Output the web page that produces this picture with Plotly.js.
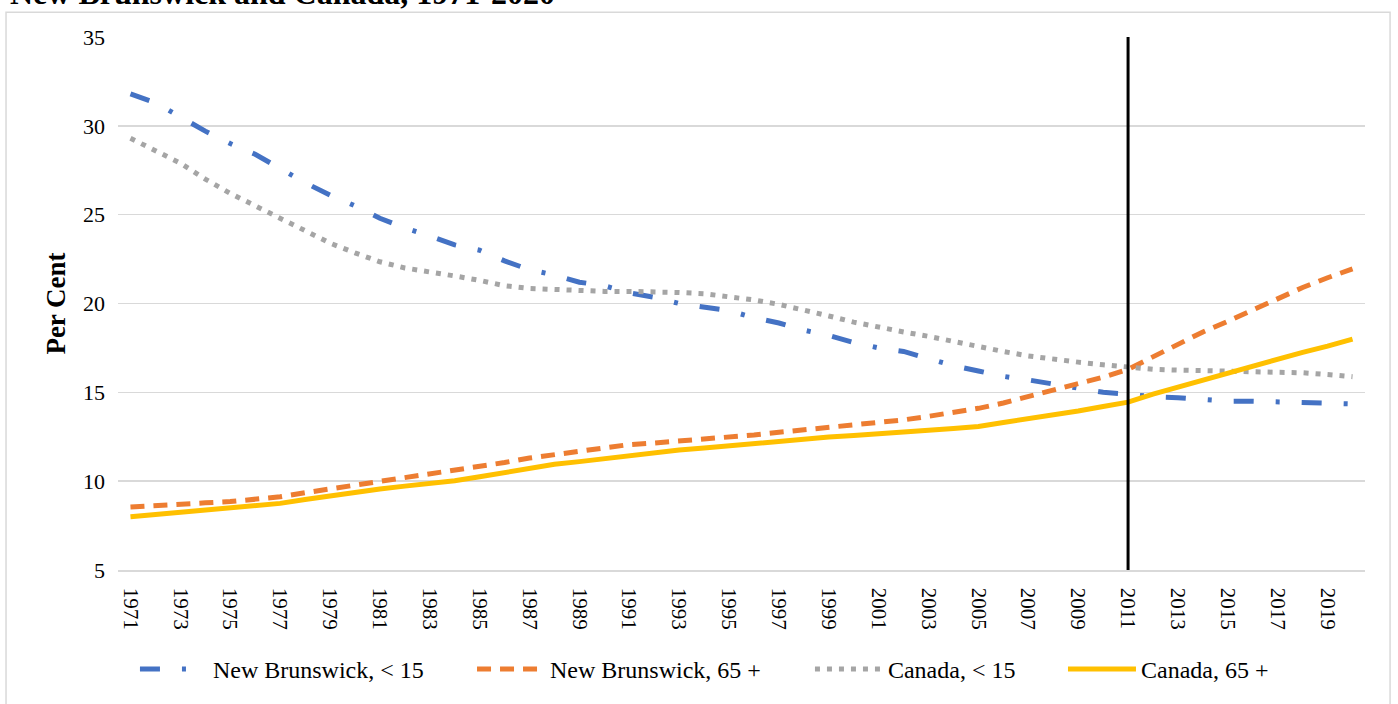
<!DOCTYPE html>
<html>
<head>
<meta charset="utf-8">
<script src="https://cdn.plot.ly/plotly-3.0.1.min.js"></script>
<style>html,body{margin:0;padding:0;background:#fff;}#chart{width:1398px;height:704px;}</style>
</head>
<body>
<div id="chart"></div>
<script>
const years = [1971,1972,1973,1974,1975,1976,1977,1978,1979,1980,1981,1982,1983,1984,1985,1986,1987,1988,1989,1990,1991,1992,1993,1994,1995,1996,1997,1998,1999,2000,2001,2002,2003,2004,2005,2006,2007,2008,2009,2010,2011,2012,2013,2014,2015,2016,2017,2018,2019,2020];

const nbUnder15 = [31.8,31.3,30.5,29.7,29.0,28.4,27.6,26.8,26.1,25.5,24.8,24.25,23.8,23.3,23.0,22.4,21.9,21.6,21.2,21.0,20.6,20.35,20.0,19.8,19.6,19.2,18.9,18.5,18.2,17.8,17.5,17.3,16.9,16.5,16.2,15.9,15.7,15.45,15.2,15.0,14.9,14.75,14.7,14.6,14.5,14.5,14.45,14.4,14.4,14.35];

const nb65plus = [8.55,8.65,8.72,8.78,8.85,8.95,9.12,9.35,9.56,9.78,10.0,10.17,10.35,10.58,10.8,11.05,11.3,11.5,11.72,11.92,12.06,12.15,12.25,12.37,12.47,12.6,12.75,12.88,13.05,13.15,13.3,13.45,13.65,13.85,14.1,14.4,14.75,15.1,15.45,15.85,16.3,17.0,17.7,18.4,19.0,19.65,20.3,20.9,21.45,21.95];

const canUnder15 = [29.3,28.6,27.9,27.0,26.2,25.5,24.8,24.1,23.4,22.85,22.35,22.0,21.8,21.55,21.3,21.0,20.85,20.77,20.7,20.68,20.68,20.66,20.62,20.55,20.4,20.2,19.95,19.65,19.3,18.95,18.65,18.4,18.15,17.85,17.6,17.3,17.05,16.85,16.7,16.55,16.4,16.3,16.25,16.23,16.2,16.2,16.17,16.1,16.0,15.88];

const can65plus = [8.0,8.13,8.25,8.36,8.47,8.6,8.75,8.97,9.18,9.38,9.56,9.72,9.87,10.02,10.25,10.48,10.72,10.95,11.1,11.28,11.45,11.6,11.75,11.87,12.0,12.12,12.25,12.37,12.48,12.57,12.65,12.75,12.87,12.97,13.08,13.3,13.5,13.72,13.95,14.2,14.45,14.9,15.3,15.72,16.12,16.5,16.88,17.25,17.6,18.0];

const tickYears = [1971,1973,1975,1977,1979,1981,1983,1985,1987,1989,1991,1993,1995,1997,1999,2001,2003,2005,2007,2009,2011,2013,2015,2017,2019];
const tickLabels = ["1971","1973","1975","1977","1979","1981","1983","1985","1987","1989","1991","1993","1995","1997","1999","2001","2003","2005","2007","2009","2011","2013","2015","2017","2019"];

const seriesNames = ["New Brunswick, < 15","New Brunswick, 65 +","Canada, < 15","Canada, 65 +"];
const markerYear = 2011;
const chartTitle = "New Brunswick and Canada, 1971-2020";

const FONT = "'Liberation Serif', 'Times New Roman', serif";

const traces = [
  {x: years, y: nbUnder15, name: seriesNames[0], mode: 'lines', legend: 'legend',
   line: {color: '#4472C4', width: 5, dash: '20px,22px,4px,22px'}},
  {x: years, y: nb65plus, name: seriesNames[1], mode: 'lines', legend: 'legend2',
   line: {color: '#ED7D31', width: 5, dash: '14px,9px'}},
  {x: years, y: canUnder15, name: seriesNames[2], mode: 'lines', legend: 'legend3',
   line: {color: '#A5A5A5', width: 5, dash: '5px,7px'}},
  {x: years, y: can65plus, name: seriesNames[3], mode: 'lines', legend: 'legend4',
   line: {color: '#FFC000', width: 5}}
];

function leg(x) {
  return {orientation: 'h', x: x, xanchor: 'left', y: -0.1866, yanchor: 'middle',
    font: {family: FONT, size: 24, color: '#000'}, itemwidth: 68, bgcolor: 'rgba(0,0,0,0)'};
}

const layout = {
  width: 1398, height: 704,
  margin: {l: 118, r: 33, t: 37, b: 131, pad: 0},
  paper_bgcolor: '#fff', plot_bgcolor: '#fff',
  font: {family: FONT, size: 20, color: '#000'},
  showlegend: true,
  legend: leg(0.0136),
  legend2: leg(0.2839),
  legend3: leg(0.5549),
  legend4: leg(0.7578),
  xaxis: {
    range: [1970.5, 2020.5], tickmode: 'array', tickvals: tickYears, ticktext: tickLabels,
    tickangle: 90, showgrid: false, zeroline: false, showline: true, linecolor: '#D9D9D9', linewidth: 1.5,
    ticks: '', ticklabelstandoff: 12, tickfont: {family: FONT, size: 21, color: '#000'}, fixedrange: true
  },
  yaxis: {
    range: [5, 35], tickmode: 'linear', tick0: 5, dtick: 5, showgrid: true, gridcolor: '#D9D9D9', gridwidth: 1.5,
    zeroline: false, showline: false, ticks: '', ticklabelstandoff: 12,
    tickfont: {family: FONT, size: 22, color: '#000'},
    title: {text: '<b>Per Cent</b>', font: {family: FONT, size: 27, color: '#000'}, standoff: 9},
    fixedrange: true
  },
  shapes: [
    {type: 'line', xref: 'x', yref: 'paper', x0: markerYear, x1: markerYear, y0: 0, y1: 1,
     line: {color: '#000', width: 3}},
    {type: 'rect', xref: 'paper', yref: 'paper', x0: -0.0898, x1: 1.0201, y0: -0.2556, y1: 1.0466,
     line: {color: '#D9D9D9', width: 1.5}, layer: 'below'}
  ],
  annotations: [
    {text: '<b>' + chartTitle + '</b>', xref: 'paper', yref: 'paper', x: -0.0882, xanchor: 'left',
     y: 1.045, yanchor: 'bottom', showarrow: false, font: {family: FONT, size: 32, color: '#000'}}
  ]
};

Plotly.newPlot('chart', traces, layout, {displayModeBar: false, staticPlot: true});
</script>
</body>
</html>
